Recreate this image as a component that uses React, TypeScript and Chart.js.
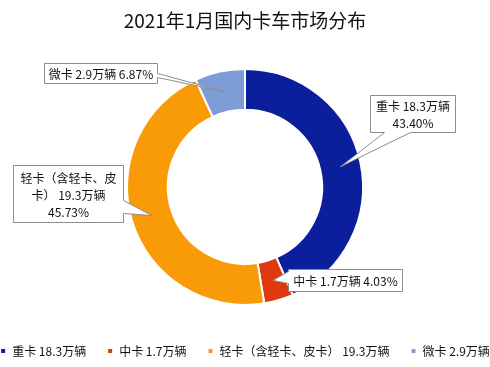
import React, { useEffect, useRef } from "react";
import { Chart, registerables } from "chart.js";

Chart.register(...registerables);

const TITLE = "2021年1月国内卡车市场分布";
const categories = ["重卡", "中卡", "轻卡（含轻卡、皮卡）", "微卡"];
const volumes = [18.3, 1.7, 19.3, 2.9]; // 万辆
const percents = ["43.40%", "4.03%", "45.73%", "6.87%"];
const colors = ["#0B1F9C", "#E0380E", "#F99B06", "#7E9DD6"];

// callout label lines for each slice
const calloutLines = [
  ["重卡 18.3万辆", percents[0]],
  ["中卡 1.7万辆 " + percents[1]],
  ["轻卡（含轻卡、皮", "卡） 19.3万辆", percents[2]],
  ["微卡 2.9万辆 " + percents[3]],
];

// callout box geometry relative to doughnut center; wedge side and base range along that side
const calloutBoxes = [
  { dx: 125, dy: -92, w: 85, h: 37, side: "bottom", a: 14, b: 40 },
  { dx: 43, dy: 82, w: 114, h: 22, side: "left", a: 2, b: 14 },
  { dx: -232, dy: -22, w: 110, h: 57, side: "right", a: 35, b: 48 },
  { dx: -201, dy: -124, w: 113, h: 20, side: "right", a: 10, b: 14 },
];

const FONT = "'Noto Sans CJK SC', 'Noto Sans', sans-serif";

const calloutPlugin = {
  id: "callouts",
  afterDatasetsDraw(chart: any) {
    const meta = chart.getDatasetMeta(0);
    const ctx = chart.ctx;
    const first = meta.data[0];
    const cx = first.x;
    const cy = first.y;
    meta.data.forEach((arc: any, i: number) => {
      const tip = arc.tooltipPosition();
      const bx = Math.round(cx + calloutBoxes[i].dx) + 0.5;
      const by = Math.round(cy + calloutBoxes[i].dy) + 0.5;
      const { w, h, side, a, b } = calloutBoxes[i];
      ctx.save();
      ctx.beginPath();
      ctx.moveTo(bx, by);
      ctx.lineTo(bx + w, by);
      if (side === "right") {
        ctx.lineTo(bx + w, by + a);
        ctx.lineTo(tip.x, tip.y);
        ctx.lineTo(bx + w, by + b);
      }
      ctx.lineTo(bx + w, by + h);
      if (side === "bottom") {
        ctx.lineTo(bx + b, by + h);
        ctx.lineTo(tip.x, tip.y);
        ctx.lineTo(bx + a, by + h);
      }
      ctx.lineTo(bx, by + h);
      if (side === "left") {
        ctx.lineTo(bx, by + b);
        ctx.lineTo(tip.x, tip.y);
        ctx.lineTo(bx, by + a);
      }
      ctx.closePath();
      ctx.fillStyle = "#ffffff";
      ctx.fill();
      ctx.strokeStyle = "#8c8c8c";
      ctx.lineWidth = 1;
      ctx.stroke();

      ctx.fillStyle = "#111111";
      ctx.font = `12px ${FONT}`;
      ctx.textAlign = "center";
      ctx.textBaseline = "middle";
      const lines = calloutLines[i];
      const lh = 17;
      const startY = by + h / 2 - ((lines.length - 1) * lh) / 2;
      lines.forEach((t, k) => {
        ctx.fillText(t, bx + w / 2, startY + k * lh + 1);
      });
      ctx.restore();
    });
  },
};

export default function App() {
  const ref = useRef<HTMLCanvasElement | null>(null);
  useEffect(() => {
    document.body.style.margin = "0";
    const canvas = ref.current;
    if (!canvas) return;
    const chart = new Chart(canvas, {
      type: "doughnut",
      data: {
        labels: categories.map((c, i) => `${c} ${volumes[i]}万辆`),
        datasets: [
          {
            data: volumes,
            backgroundColor: colors,
            borderColor: "#ffffff",
            borderWidth: 2,
            radius: 118,
            cutout: 89,
          },
        ],
      },
      options: {
        responsive: false,
        animation: false,
        events: [],
        layout: { padding: { left: -22, right: -22, top: 0, bottom: 0 } },
        plugins: {
          title: {
            display: true,
            text: TITLE,
            color: "#111111",
            font: { size: 19, family: FONT, weight: "normal" },
            padding: { top: 9, bottom: 18 },
          },
          legend: {
            position: "bottom",
            labels: {
              boxWidth: 6,
              boxHeight: 6,
              padding: 21,
              color: "#111111",
              font: { size: 12, family: FONT },
            },
          },
          tooltip: { enabled: false },
        },
      },
      plugins: [calloutPlugin],
    });
    return () => chart.destroy();
  }, []);
  return (
    <div style={{ width: 490, height: 367 }}>
      <canvas ref={ref} width={490} height={367} style={{ display: "block" }} />
    </div>
  );
}
